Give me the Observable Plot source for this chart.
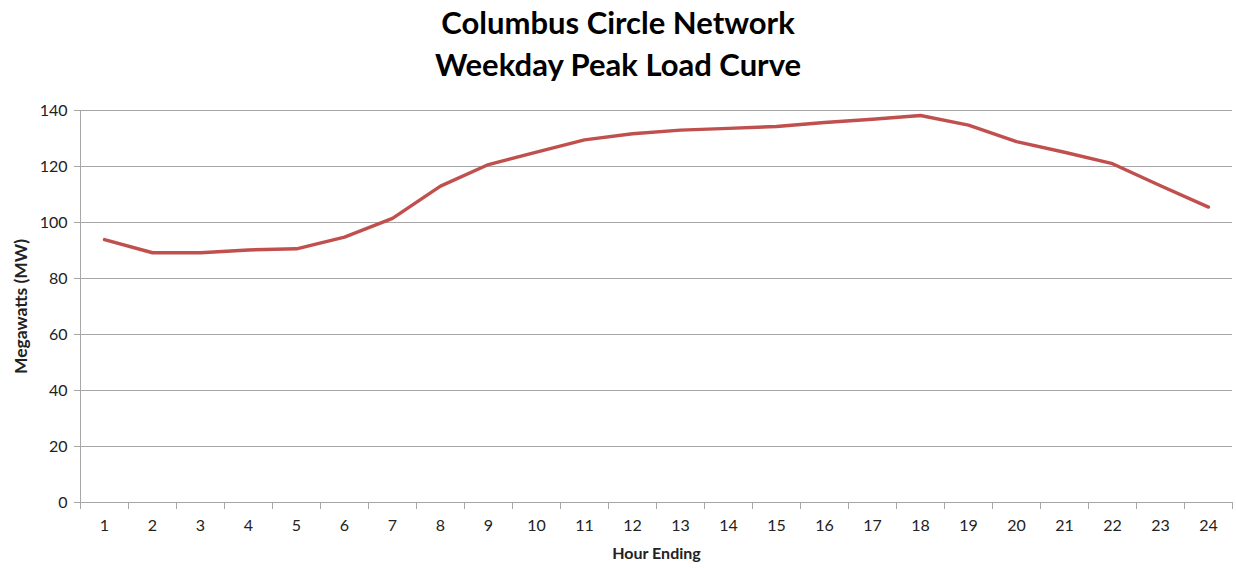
<!DOCTYPE html>
<html>
<head>
<meta charset="utf-8">
<script src="https://cdn.jsdelivr.net/npm/d3@7"></script>
<script src="https://cdn.jsdelivr.net/npm/@observablehq/plot@0.6"></script>
<style>
  html, body { margin: 0; padding: 0; background: #fff; }
  #title { width: 1236px; height: 90px; text-align: center; font-family: Lato, "Open Sans", sans-serif; font-weight: bold; font-size: 31px; line-height: 42px; color: #000; padding-top: 1px; box-sizing: border-box; }
  svg g[aria-label="y-axis label"] text { font-weight: bold; font-size: 17.5px; }
  svg g[aria-label="x-axis label"] text { font-weight: bold; font-size: 16px; }
</style>
</head>
<body>
<div id="title">Columbus Circle Network<br>Weekday Peak Load Curve</div>
<div id="chart"></div>
<script>
const hours = [1,2,3,4,5,6,7,8,9,10,11,12,13,14,15,16,17,18,19,20,21,22,23,24];
const megawatts = [93.9,89.2,89.2,90.2,90.6,94.8,101.5,113.0,120.7,125.1,129.5,131.7,133.0,133.6,134.3,135.7,136.9,138.2,134.8,128.9,125.1,121.0,113.1,105.5];
const yTicks = [0,20,40,60,80,100,120,140];
const boundaries = d3.range(0.5, 25, 1);

const data = hours.map((h, i) => ({hour: h, mw: megawatts[i]}));

const chart = Plot.plot({
  width: 1236,
  height: 478,
  marginTop: 20,
  marginBottom: 66,
  marginLeft: 80,
  marginRight: 4,
  style: {fontFamily: "Lato, 'Open Sans', sans-serif", fontSize: "16px", color: "#222", background: "#fff"},
  x: {domain: [0.5, 24.5]},
  y: {domain: [0, 140]},
  marks: [
    Plot.gridY(yTicks, {stroke: "#a6a6a6", strokeOpacity: 1, strokeWidth: 1}),
    Plot.ruleX([0.5], {stroke: "#a6a6a6", strokeWidth: 1}),
    Plot.axisY(yTicks, {tickSize: 6, tickPadding: 7, stroke: "#a6a6a6", label: "Megawatts (MW)", labelAnchor: "center", labelArrow: "none", labelOffset: 66, fontSize: 16}),
    Plot.axisX(boundaries, {tickSize: 7, tickFormat: () => "", stroke: "#a6a6a6", label: null}),
    Plot.axisX(hours, {tickSize: 0, tickPadding: 17, label: "Hour Ending", labelAnchor: "center", labelArrow: "none", labelOffset: 56, fontSize: 16}),
    Plot.ruleY([0], {stroke: "#a6a6a6", strokeWidth: 1}),
    Plot.line(data, {x: "hour", y: "mw", stroke: "#c0504d", strokeWidth: 3.4, strokeLinejoin: "round"})
  ]
});
document.getElementById("chart").appendChild(chart);
</script>
</body>
</html>
